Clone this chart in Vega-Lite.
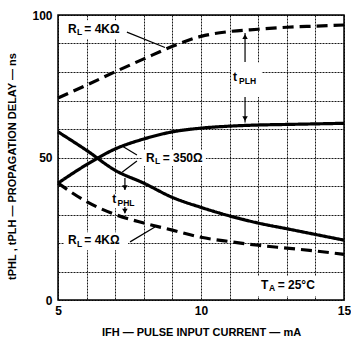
{
  "$schema": "https://vega.github.io/schema/vega-lite/v6.json",
  "width": 286,
  "height": 285,
  "autosize": "none",
  "padding": {"left": 58, "top": 15, "right": 7, "bottom": 45},
  "background": "white",
  "config": {
    "font": "Liberation Sans",
    "view": {"stroke": "black", "strokeWidth": 1.5},
    "axis": {
      "gridColor": "black",
      "gridDash": [2, 1],
      "gridWidth": 1,
      "gridOpacity": 0.9,
      "domain": false,
      "ticks": false,
      "labelFont": "Liberation Sans",
      "labelFontWeight": "bold",
      "labelFontSize": 12,
      "labelColor": "black",
      "titleFont": "Liberation Sans",
      "titleFontWeight": "bold",
      "titleFontSize": 11,
      "titleColor": "black"
    }
  },
  "datasets": {
    "curves": [
      {"curve": "PLH4K", "style": "dashed", "x": 5, "y": 70.9},
      {"curve": "PLH4K", "style": "dashed", "x": 6, "y": 75.4},
      {"curve": "PLH4K", "style": "dashed", "x": 7, "y": 80.1},
      {"curve": "PLH4K", "style": "dashed", "x": 8, "y": 84.6},
      {"curve": "PLH4K", "style": "dashed", "x": 9, "y": 89.0},
      {"curve": "PLH4K", "style": "dashed", "x": 10, "y": 92.5},
      {"curve": "PLH4K", "style": "dashed", "x": 11, "y": 94.2},
      {"curve": "PLH4K", "style": "dashed", "x": 12, "y": 95.0},
      {"curve": "PLH4K", "style": "dashed", "x": 13, "y": 95.7},
      {"curve": "PLH4K", "style": "dashed", "x": 14, "y": 96.1},
      {"curve": "PLH4K", "style": "dashed", "x": 15, "y": 96.5},
      {"curve": "PLH350", "style": "solid", "x": 5, "y": 41},
      {"curve": "PLH350", "style": "solid", "x": 6, "y": 47.5},
      {"curve": "PLH350", "style": "solid", "x": 7, "y": 53},
      {"curve": "PLH350", "style": "solid", "x": 8, "y": 56.5},
      {"curve": "PLH350", "style": "solid", "x": 9, "y": 59},
      {"curve": "PLH350", "style": "solid", "x": 10, "y": 60.3},
      {"curve": "PLH350", "style": "solid", "x": 11, "y": 61},
      {"curve": "PLH350", "style": "solid", "x": 12, "y": 61.4},
      {"curve": "PLH350", "style": "solid", "x": 13, "y": 61.6},
      {"curve": "PLH350", "style": "solid", "x": 14, "y": 61.8},
      {"curve": "PLH350", "style": "solid", "x": 15, "y": 62},
      {"curve": "PHL350", "style": "solid", "x": 5, "y": 59},
      {"curve": "PHL350", "style": "solid", "x": 6, "y": 52.5},
      {"curve": "PHL350", "style": "solid", "x": 7, "y": 45.5},
      {"curve": "PHL350", "style": "solid", "x": 8, "y": 41},
      {"curve": "PHL350", "style": "solid", "x": 9, "y": 36},
      {"curve": "PHL350", "style": "solid", "x": 10, "y": 32.5},
      {"curve": "PHL350", "style": "solid", "x": 11, "y": 29.5},
      {"curve": "PHL350", "style": "solid", "x": 12, "y": 27},
      {"curve": "PHL350", "style": "solid", "x": 13, "y": 25},
      {"curve": "PHL350", "style": "solid", "x": 14, "y": 23},
      {"curve": "PHL350", "style": "solid", "x": 15, "y": 21},
      {"curve": "PHL4K", "style": "dashed", "x": 5, "y": 41},
      {"curve": "PHL4K", "style": "dashed", "x": 6, "y": 34.5},
      {"curve": "PHL4K", "style": "dashed", "x": 7, "y": 30},
      {"curve": "PHL4K", "style": "dashed", "x": 8, "y": 27},
      {"curve": "PHL4K", "style": "dashed", "x": 9, "y": 24.5},
      {"curve": "PHL4K", "style": "dashed", "x": 10, "y": 22},
      {"curve": "PHL4K", "style": "dashed", "x": 11, "y": 20.5},
      {"curve": "PHL4K", "style": "dashed", "x": 12, "y": 19.2},
      {"curve": "PHL4K", "style": "dashed", "x": 13, "y": 18.2},
      {"curve": "PHL4K", "style": "dashed", "x": 14, "y": 17.2},
      {"curve": "PHL4K", "style": "dashed", "x": 15, "y": 16}
    ],
    "boxes": [
      {"x": 5.21, "x2": 7.45, "y": 91.6, "y2": 98.2},
      {"x": 11.05, "x2": 12.13, "y": 71.2, "y2": 83.3},
      {"x": 7.94, "x2": 10.17, "y": 47, "y2": 52.6},
      {"x": 6.82, "x2": 7.83, "y": 32.2, "y2": 37.3},
      {"x": 5.21, "x2": 7.45, "y": 17.5, "y2": 23.8},
      {"x": 11.96, "x2": 14.23, "y": 1.4, "y2": 8.4}
    ],
    "segments": [
      {"x": 7.41, "y": 94.0, "x2": 8.74, "y2": 88.6},
      {"x": 7.76, "y": 50.9, "x2": 7.24, "y2": 54.0},
      {"x": 7.76, "y": 48.8, "x2": 7.24, "y2": 44.8},
      {"x": 7.52, "y": 20.4, "x2": 8.39, "y2": 25.6},
      {"x": 11.54, "y": 93.7, "x2": 11.54, "y2": 83.5},
      {"x": 11.54, "y": 71.2, "x2": 11.54, "y2": 62.3},
      {"x": 7.34, "y": 42.8, "x2": 7.34, "y2": 38.6},
      {"x": 7.34, "y": 32.6, "x2": 7.34, "y2": 30.4}
    ],
    "heads": [
      {"x": 11.54, "y": 92.4, "shape": "triangle-up"},
      {"x": 11.54, "y": 63.6, "shape": "triangle-down"},
      {"x": 7.34, "y": 39.4, "shape": "triangle-down"},
      {"x": 7.34, "y": 31.2, "shape": "triangle-down"}
    ],
    "mainText": [
      {"x": 5.35, "y": 95.1, "t": "R"},
      {"x": 5.92, "y": 95.1, "t": "= 4KΩ"},
      {"x": 11.12, "y": 78.4, "t": "t"},
      {"x": 8.08, "y": 49.8, "t": "R"},
      {"x": 8.66, "y": 49.8, "t": "= 350Ω"},
      {"x": 6.9, "y": 35.3, "t": "t"},
      {"x": 5.35, "y": 20.9, "t": "R"},
      {"x": 5.92, "y": 20.9, "t": "= 4KΩ"},
      {"x": 12.1, "y": 5.3, "t": "T"},
      {"x": 12.68, "y": 5.3, "t": "= 25°C"}
    ],
    "subText": [
      {"x": 5.66, "y": 93.9, "t": "L"},
      {"x": 11.33, "y": 76.9, "t": "PLH"},
      {"x": 8.39, "y": 48.6, "t": "L"},
      {"x": 7.08, "y": 33.9, "t": "PHL"},
      {"x": 5.66, "y": 19.7, "t": "L"},
      {"x": 12.38, "y": 4.1, "t": "A"}
    ]
  },
  "encoding": {
    "x": {"field": "x", "type": "quantitative", "scale": {"domain": [5, 15], "nice": false, "zero": false},
      "axis": {"values": [5, 6, 7, 8, 9, 10, 11, 12, 13, 14, 15], "grid": true, "labelExpr": "(datum.value == 5 || datum.value == 10 || datum.value == 15) ? datum.label : ''", "labelPadding": 5, "labelOverlap": false, "labelFlush": false,
        "title": "IFH — PULSE INPUT CURRENT — mA", "titlePadding": 10}},
    "y": {"field": "y", "type": "quantitative", "scale": {"domain": [0, 100], "nice": false},
      "axis": {"values": [0, 10, 20, 30, 40, 50, 60, 70, 80, 90, 100], "grid": true, "labelExpr": "(datum.value == 0 || datum.value == 50 || datum.value == 100) ? datum.label : ''", "labelPadding": 6, "labelOverlap": false, "labelFlush": false,
        "title": "tPHL , tPLH — PROPAGATION DELAY — ns", "titlePadding": 14, "titleY": 151}}
  },
  "layer": [
    {
      "data": {"name": "boxes"},
      "mark": {"type": "rect", "fill": "white"},
      "encoding": {
        "x2": {"field": "x2"},
        "y2": {"field": "y2"}
      }
    },
    {
      "data": {"name": "curves"},
      "mark": {"type": "line", "color": "black", "strokeWidth": 3.2, "interpolate": "monotone"},
      "encoding": {
        "detail": {"field": "curve"},
        "strokeDash": {"field": "style", "type": "nominal", "scale": {"domain": ["solid", "dashed"], "range": [[1, 0], [11, 6]]}, "legend": null}
      }
    },
    {
      "data": {"name": "segments"},
      "mark": {"type": "rule", "color": "black", "strokeWidth": 1.2},
      "encoding": {
        "x2": {"field": "x2"},
        "y2": {"field": "y2"}
      }
    },
    {
      "data": {"name": "heads"},
      "mark": {"type": "point", "filled": true, "color": "black", "size": 30, "opacity": 1},
      "encoding": {
        "shape": {"field": "shape", "type": "nominal", "scale": null, "legend": null}
      }
    },
    {
      "data": {"name": "mainText"},
      "mark": {"type": "text", "align": "left", "baseline": "middle", "fontSize": 12, "fontWeight": "bold", "color": "black", "font": "Liberation Sans"},
      "encoding": {
        "text": {"field": "t"}
      }
    },
    {
      "data": {"name": "subText"},
      "mark": {"type": "text", "align": "left", "baseline": "middle", "fontSize": 8.5, "fontWeight": "bold", "color": "black", "font": "Liberation Sans"},
      "encoding": {
        "text": {"field": "t"}
      }
    }
  ]
}
